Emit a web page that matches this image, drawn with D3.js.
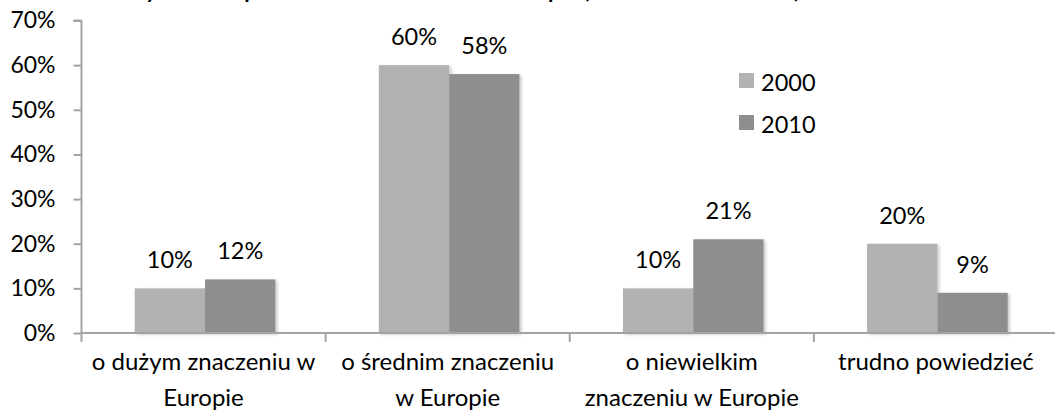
<!DOCTYPE html>
<html>
<head>
<meta charset="utf-8">
<script src="https://cdn.jsdelivr.net/npm/d3@7"></script>
<style>
  html, body { margin: 0; padding: 0; background: #fff; overflow: hidden; }
  svg { display: block; }
  text { font-family: Lato, "Open Sans", sans-serif; fill: #000; }
</style>
</head>
<body>
<svg id="chart" width="1055" height="414"></svg>
<script>
// Categories and series (share of answers)
const categories = [
  ["o dużym znaczeniu w", "Europie"],
  ["o średnim znaczeniu", "w Europie"],
  ["o niewielkim", "znaczeniu w Europie"],
  ["trudno powiedzieć"]
];
const seriesNames = ["2000", "2010"];
const values2000 = [0.10, 0.60, 0.10, 0.20];
const values2010 = [0.12, 0.58, 0.21, 0.09];
const yTicks = [0, 0.1, 0.2, 0.3, 0.4, 0.5, 0.6, 0.7];
const titleText = "Wykres 3. Opinie o znaczeniu Polski w Europie (w latach 2000 i 2010)";

const colors = { "2000": "#b2b2b2", "2010": "#8e8e8e" };
const seriesValues = { "2000": values2000, "2010": values2010 };

const svg = d3.select("#chart");
const margin = { left: 81.5, right: 1058, top: 20.5, bottom: 333 };

const x0 = d3.scaleBand()
  .domain(d3.range(categories.length))
  .range([margin.left, margin.right])
  .padding(0);
const bw = x0.bandwidth();
const x1 = d3.scaleBand()
  .domain(seriesNames)
  .range([bw * 0.218, bw * 0.794])
  .padding(0);
const y = d3.scaleLinear().domain([0, 0.7]).range([margin.bottom, margin.top]);

const pct = d3.format(".0%");

// Soft shadow under the bars
const defs = svg.append("defs");
const f = defs.append("filter").attr("id", "shadow")
  .attr("x", "-10%").attr("y", "-10%").attr("width", "130%").attr("height", "130%");
f.append("feDropShadow").attr("dx", 2).attr("dy", 1.5)
  .attr("stdDeviation", 1.6).attr("flood-color", "#000").attr("flood-opacity", 0.22);

// Title, running off the top edge
svg.append("text")
  .attr("x", 800).attr("y", -2)
  .attr("text-anchor", "end")
  .style("font-weight", "bold")
  .style("font-size", "22px")
  .text(titleText);

// Bars
const groups = svg.append("g").selectAll("g")
  .data(categories.map((c, i) => i))
  .join("g")
  .attr("transform", i => `translate(${x0(i)},0)`);

groups.selectAll("rect")
  .data(i => seriesNames.map(s => ({ s, v: seriesValues[s][i] })))
  .join("rect")
  .attr("x", d => x1(d.s))
  .attr("y", d => y(d.v))
  .attr("width", x1.bandwidth())
  .attr("height", d => y(0) - y(d.v))
  .attr("fill", d => colors[d.s])
  .attr("filter", "url(#shadow)");

// Value labels
groups.selectAll("text.val")
  .data(i => seriesNames.map(s => ({ s, v: seriesValues[s][i] })))
  .join("text")
  .attr("class", "val")
  .attr("x", d => x1(d.s) + x1.bandwidth() / 2)
  .attr("y", d => y(d.v) - 20)
  .attr("text-anchor", "middle")
  .style("font-size", "23.5px")
  .text(d => pct(d.v));

// Y axis
const yAxis = d3.axisLeft(y)
  .tickValues(yTicks)
  .tickFormat(pct)
  .tickSize(8)
  .tickPadding(18);
const gy = svg.append("g")
  .attr("transform", `translate(${margin.left},0)`)
  .call(yAxis);
gy.select(".domain").attr("stroke", "#a3a3a3").attr("stroke-width", 2)
  .attr("d", `M0,${y(0.7)}H-8M0,${y(0.7)}V${y(0)}`);
gy.selectAll(".tick line").attr("stroke", "#a3a3a3").attr("stroke-width", 2);
gy.selectAll(".tick text").style("font-size", "23px").attr("fill", "#000")
  .style("font-family", "Lato, sans-serif");

// X axis
const xAxis = d3.axisBottom(x0).tickSize(0).tickFormat("");
const gx = svg.append("g")
  .attr("transform", `translate(0,${margin.bottom})`)
  .call(xAxis);
gx.select(".domain").attr("stroke", "#a3a3a3").attr("stroke-width", 2)
  .attr("d", `M${margin.left},0H${margin.right}`);
gx.selectAll(".tick").remove();

const boundaries = d3.range(categories.length + 1).map(i => margin.left + i * bw);
gx.selectAll("line.sep")
  .data(boundaries)
  .join("line")
  .attr("class", "sep")
  .attr("x1", d => d).attr("x2", d => d)
  .attr("y1", 0).attr("y2", 9)
  .attr("stroke", "#a3a3a3").attr("stroke-width", 2);

// Category labels (two lines)
const cat = svg.append("g").selectAll("text")
  .data(categories.map((c, i) => ({ c, i })))
  .join("text")
  .attr("text-anchor", "middle")
  .style("font-size", "24px")
  .attr("x", d => x0(d.i) + bw / 2)
  .attr("y", 370);
cat.selectAll("tspan")
  .data(d => d.c.map((t, k) => ({ t, k, x: x0(d.i) + bw / 2 })))
  .join("tspan")
  .attr("x", d => d.x)
  .attr("dy", d => d.k === 0 ? 0 : 36)
  .text(d => d.t);

// Legend
const legend = svg.append("g").attr("transform", "translate(739,73)");
const li = legend.selectAll("g")
  .data(seriesNames)
  .join("g")
  .attr("transform", (d, i) => `translate(0,${i * 42})`);
li.append("rect").attr("width", 15).attr("height", 15).attr("fill", d => colors[d]);
li.append("text").attr("x", 22).attr("y", 18).style("font-size", "23.5px").text(d => d);
</script>
</body>
</html>
